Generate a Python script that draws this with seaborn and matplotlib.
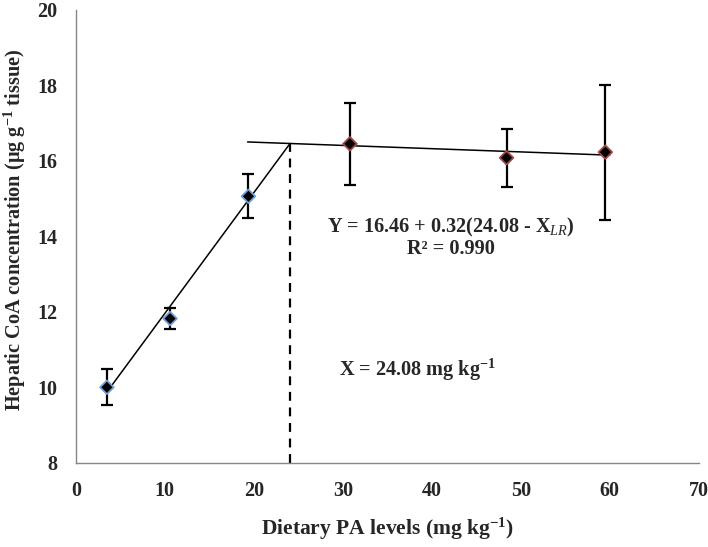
import numpy as np
import pandas as pd
import matplotlib
matplotlib.use("Agg")
import matplotlib.pyplot as plt
import seaborn as sns

sns.set_theme(style="white")
plt.rcParams["font.family"] = ["Liberation Serif", "DejaVu Serif"]
plt.rcParams["mathtext.fontset"] = "custom"
plt.rcParams["mathtext.rm"] = "Liberation Serif:bold"
plt.rcParams["mathtext.it"] = "Liberation Serif:italic"

# Data
pa_level = [3.5, 10.6, 19.4, 30.8, 48.4, 59.5]
coa_conc = [10.00, 11.82, 15.06, 16.45, 16.08, 16.23]
coa_err = [0.48, 0.27, 0.58, 1.09, 0.77, 1.79]
group = ["rise", "rise", "rise", "plateau", "plateau", "plateau"]

# broken-line model
breakpoint = 24.08
plateau = 16.46
slope = 0.32
plateau_line_x = [19.3, 60.0]
plateau_line_y = [16.50, 16.15]

df = pd.DataFrame({"x": pa_level, "y": coa_conc, "err": coa_err, "group": group})

fig = plt.figure(figsize=(7.08, 5.47), dpi=100)
ax = fig.add_axes([0.107, 0.154, 0.88, 0.828])

# rising segment
rise_x = np.array([pa_level[0], breakpoint])
rise_y = plateau - slope * (breakpoint - rise_x)
sns.lineplot(x=rise_x, y=rise_y, color="black", lw=1.1, ax=ax)
# plateau segment
sns.lineplot(x=plateau_line_x, y=plateau_line_y, color="black", lw=1.1, ax=ax)
# breakpoint marker
ax.plot([breakpoint, breakpoint], [8, rise_y[-1]], color="black", lw=1.6, ls=(0, (4, 3)))

# error bars
ax.errorbar(df["x"], df["y"], yerr=df["err"], fmt="none", ecolor="black",
            elinewidth=1.6, capsize=4.5, capthick=1.6, zorder=3)

sns.scatterplot(data=df, x="x", y="y", marker="D", s=48, legend=False, zorder=4, ax=ax,
                linewidth=1.3)
pts = ax.collections[-1]
pts.set_facecolor("black")
pts.set_edgecolor(["#6f9fd6" if g == "rise" else "#a04848" for g in group])

ax.set_xlim(0, 70)
ax.set_ylim(8, 20)
ax.set_xticks(range(0, 71, 10))
ax.set_yticks(range(8, 21, 2))

for s in ["top", "right"]:
    ax.spines[s].set_visible(False)
for s in ["left", "bottom"]:
    ax.spines[s].set_color("#868686")
    ax.spines[s].set_linewidth(1.0)
ax.tick_params(axis="both", direction="out", length=5, width=1.0, color="#868686",
               labelsize=14.5, pad=8)
for lab in ax.get_xticklabels() + ax.get_yticklabels():
    lab.set_fontweight("bold")

ax.set_xlabel("Dietary PA levels (mg kg$^{-1}$)", fontsize=15.5, fontweight="bold", labelpad=11)
ax.set_ylabel("Hepatic CoA concentration (\u00b5g g$^{-1}$ tissue)", fontsize=14.6,
              fontweight="bold", labelpad=8)
ax.yaxis.set_label_coords(-0.076, 0.514)

ax.text(42.1, 14.24, "Y = 16.46 + 0.32(24.08 - X$_{\\mathit{LR}}$)", ha="center", va="center",
        fontsize=14.6, fontweight="bold")
ax.text(42.1, 13.66, "R\u00b2 = 0.990", ha="center", va="center", fontsize=14.6, fontweight="bold")
ax.text(38.4, 10.46, "X = 24.08 mg kg$^{-1}$", ha="center", va="center",
        fontsize=14.6, fontweight="bold")

fig.savefig("out.png", dpi=100)
